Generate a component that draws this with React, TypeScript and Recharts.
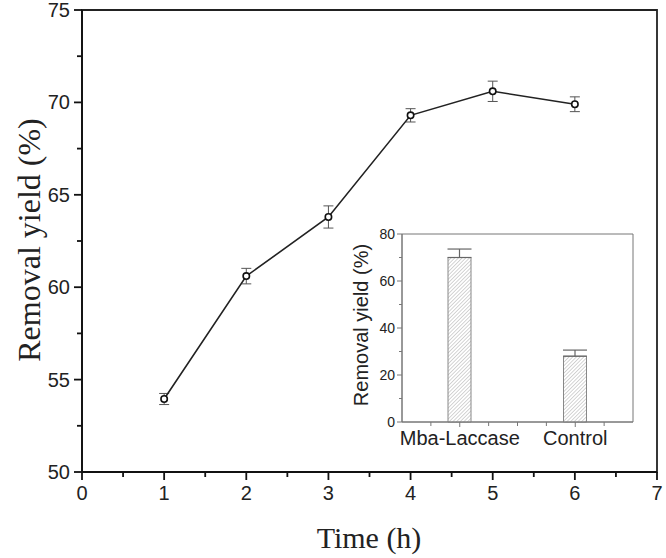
import React from 'react';
import { ComposedChart, Line, XAxis, YAxis, ErrorBar, ReferenceArea, Bar } from 'recharts';

// Main series
const times = [1, 2, 3, 4, 5, 6];
const removal = [53.95, 60.6, 63.8, 69.3, 70.6, 69.9];
const removalErr = [0.3, 0.42, 0.6, 0.36, 0.55, 0.4];
const mainXTicks = [0, 0.5, 1, 1.5, 2, 2.5, 3, 3.5, 4, 4.5, 5, 5.5, 6, 6.5, 7];
const mainYTicks = [50, 52.5, 55, 57.5, 60, 62.5, 65, 67.5, 70, 72.5, 75];

// Inset series
const insetCategories = ['Mba-Laccase', 'Control'];
const insetPositions = [1, 2];
const insetValues = [70, 28];
const insetErrors = [3.6, 2.6];
const insetXTicks = [0.75, 1, 1.25, 1.5, 1.75, 2, 2.25];
const insetYTicks = [0, 10, 20, 30, 40, 50, 60, 70, 80];

const mainData = times.map((t, i) => ({ t, y: removal[i], err: removalErr[i] }));
const insetData = insetPositions.map((p, i) => ({
  p,
  name: insetCategories[i],
  v: insetValues[i],
  err: [0, insetErrors[i]],
}));

const SANS = 'Liberation Sans, Arial, sans-serif';
const SERIF = 'Liberation Serif, Times New Roman, serif';

const MainXTick = (props: any) => {
  const { x, y, payload } = props;
  const major = Number.isInteger(payload.value);
  return (
    <g>
      <line x1={x} y1={y} x2={x} y2={y + (major ? 8 : 5)} stroke="#111" strokeWidth={1.8} />
      {major && (
        <text x={x} y={y + 28} textAnchor="middle" fontFamily={SANS} fontSize={20} fill="#222">
          {payload.value}
        </text>
      )}
    </g>
  );
};

const MainYTick = (props: any) => {
  const { x, y, payload } = props;
  const major = payload.value % 5 === 0;
  return (
    <g>
      <line x1={x} y1={y} x2={x - (major ? 8 : 5)} y2={y} stroke="#111" strokeWidth={1.8} />
      {major && (
        <text x={x - 12} y={y + 7} textAnchor="end" fontFamily={SANS} fontSize={20} fill="#222">
          {payload.value}
        </text>
      )}
    </g>
  );
};

const InsetXTick = (props: any) => {
  const { x, y, payload } = props;
  const idx = insetPositions.indexOf(payload.value);
  const major = idx >= 0;
  return (
    <g>
      <line x1={x} y1={y} x2={x} y2={y + (major ? 5 : 4)} stroke="#777" strokeWidth={1} />
      {major && (
        <text x={x} y={y + 23} textAnchor="middle" fontFamily={SANS} fontSize={20} fill="#222">
          {insetCategories[idx]}
        </text>
      )}
    </g>
  );
};

const InsetYTick = (props: any) => {
  const { x, y, payload } = props;
  const major = payload.value % 20 === 0;
  return (
    <g>
      <line x1={x} y1={y} x2={x - (major ? 5 : 3)} y2={y} stroke="#777" strokeWidth={1} />
      {major && (
        <text x={x - 7} y={y + 5} textAnchor="end" fontFamily={SANS} fontSize={14} fill="#222">
          {payload.value}
        </text>
      )}
    </g>
  );
};

const Dot = (props: any) => {
  const { cx, cy } = props;
  return <circle cx={cx} cy={cy} r={3.2} fill="#fff" stroke="#111" strokeWidth={1.6} />;
};

export default function App() {
  return (
    <div style={{ position: 'absolute', left: 0, top: 0, width: 666, height: 558, background: '#fff' }}>
      <svg width={0} height={0} style={{ position: 'absolute' }}>
        <defs>
          <pattern id="hatch" patternUnits="userSpaceOnUse" width={2.6} height={2.6} patternTransform="rotate(45)">
            <rect width={2.6} height={2.6} fill="#fff" />
            <line x1={0} y1={0} x2={0} y2={2.6} stroke="#aaa" strokeWidth={1} />
          </pattern>
        </defs>
      </svg>
      <div style={{ position: 'absolute', left: 0, top: 0 }}>
        <ComposedChart width={666} height={558} data={mainData} margin={{ top: 10, right: 9, left: 22, bottom: 56 }}>
          <ReferenceArea x1={0} x2={7} y1={50} y2={75} fill="none" stroke="#222" strokeWidth={1.8} />
          <XAxis
            dataKey="t"
            type="number"
            domain={[0, 7]}
            ticks={mainXTicks}
            interval={0}
            height={30}
            tickSize={0}
            tickMargin={0}
            tick={<MainXTick />}
            axisLine={{ stroke: '#111', strokeWidth: 1.8 }}
            allowDataOverflow
          />
          <YAxis
            type="number"
            domain={[50, 75]}
            ticks={mainYTicks}
            interval={0}
            width={60}
            tickSize={0}
            tickMargin={0}
            tick={<MainYTick />}
            axisLine={{ stroke: '#111', strokeWidth: 1.8 }}
            allowDataOverflow
          />
          <Line
            dataKey="y"
            stroke="#222"
            strokeWidth={1.6}
            dot={<Dot />}
            activeDot={false}
            isAnimationActive={false}
          >
            <ErrorBar dataKey="err" width={5} stroke="#555" strokeWidth={1} isAnimationActive={false} />
          </Line>
        </ComposedChart>
      </div>
      <div style={{ position: 'absolute', left: 330, top: 224 }}>
        <ComposedChart width={310} height={237} data={insetData} margin={{ top: 10, right: 7, left: 32, bottom: 9 }}>
          <ReferenceArea x1={0.5} x2={2.5} y1={0} y2={80} fill="#fff" stroke="#777" strokeWidth={1} />
          <XAxis
            dataKey="p"
            type="number"
            domain={[0.5, 2.5]}
            ticks={insetXTicks}
            interval={0}
            height={30}
            tickSize={0}
            tickMargin={0}
            tick={<InsetXTick />}
            axisLine={{ stroke: '#777', strokeWidth: 1 }}
          />
          <YAxis
            type="number"
            domain={[0, 80]}
            ticks={insetYTicks}
            interval={0}
            width={40}
            tickSize={0}
            tickMargin={0}
            tick={<InsetYTick />}
            axisLine={{ stroke: '#777', strokeWidth: 1 }}
          />
          <Bar dataKey="v" barSize={23} fill="url(#hatch)" stroke="#888" strokeWidth={1} isAnimationActive={false}>
            <ErrorBar dataKey="err" width={12} stroke="#666" strokeWidth={1.2} isAnimationActive={false} />
          </Bar>
        </ComposedChart>
      </div>
      <svg width={666} height={558} style={{ position: 'absolute', left: 0, top: 0, pointerEvents: 'none' }}>
        <text x={369} y={548} textAnchor="middle" fontFamily={SERIF} fontSize={30} fill="#222">
          Time (h)
        </text>
        <text
          x={0}
          y={0}
          transform="translate(40,240) rotate(-90)"
          textAnchor="middle"
          fontFamily={SERIF}
          fontSize={32}
          fill="#222"
        >
          Removal yield (%)
        </text>
        <text
          x={0}
          y={0}
          transform="translate(368,325) rotate(-90)"
          textAnchor="middle"
          fontFamily={SANS}
          fontSize={20}
          fill="#222"
        >
          Removal yield (%)
        </text>
      </svg>
    </div>
  );
}
